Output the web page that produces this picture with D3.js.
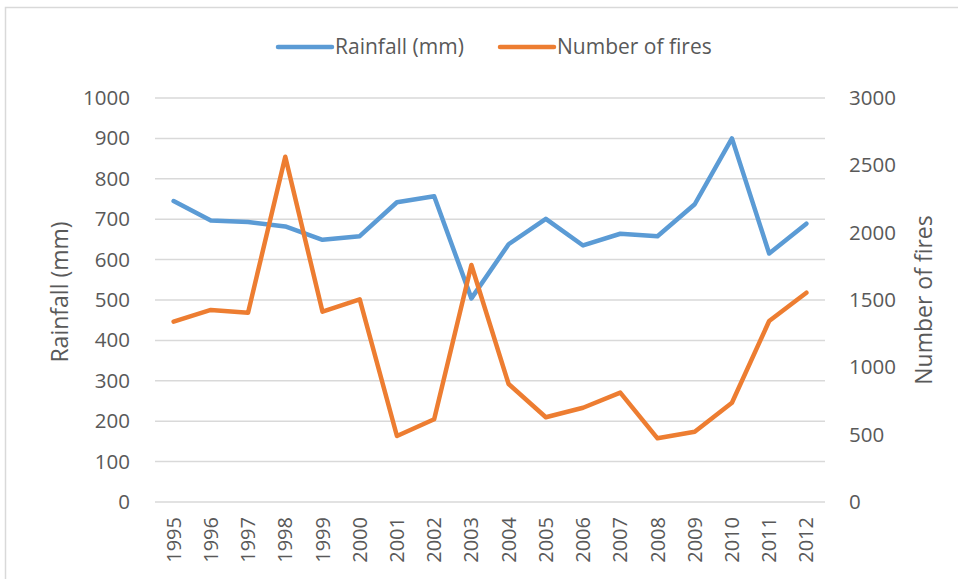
<!DOCTYPE html>
<html>
<head>
<meta charset="utf-8">
<script src="https://cdn.jsdelivr.net/npm/d3@7"></script>
<style>
  body { margin: 0; background: #fff; }
  text { font-family: "Open Sans", "Noto Sans", sans-serif; fill: #595959; }
</style>
</head>
<body>
<div id="chart"></div>
<script>
// Data
const years = ["1995", "1996", "1997", "1998", "1999", "2000", "2001", "2002", "2003",
               "2004", "2005", "2006", "2007", "2008", "2009", "2010", "2011", "2012"];
const rainfall = [745, 697, 693, 682, 649, 658, 742, 757, 504, 638, 701, 635, 664, 658, 737, 900, 615, 689];
const fires = [1339, 1426, 1406, 2564, 1413, 1505, 490, 614, 1760, 876, 629, 700, 812, 473, 522, 737, 1344, 1554];
const leftTicks = [0, 100, 200, 300, 400, 500, 600, 700, 800, 900, 1000];
const rightTicks = [0, 500, 1000, 1500, 2000, 2500, 3000];
const seriesNames = ["Rainfall (mm)", "Number of fires"];

const W = 958, H = 579;
const margin = { top: 98, right: 133, bottom: 77, left: 155 };
const colors = ["#5b9bd5", "#ed7d31"];
const fmt = d3.format("d");

const svg = d3.select("#chart").append("svg")
    .attr("width", W)
    .attr("height", H);

// chart border
svg.append("rect")
    .attr("x", 5.5).attr("y", 7.5)
    .attr("width", W).attr("height", H)
    .attr("fill", "none")
    .attr("stroke", "#d9d9d9")
    .attr("stroke-width", 1.5);

const x = d3.scaleBand().domain(years).range([margin.left, W - margin.right]);
const yL = d3.scaleLinear().domain([0, 1000]).range([H - margin.bottom, margin.top]);
const yR = d3.scaleLinear().domain([0, 3000]).range([H - margin.bottom, margin.top]);
const cx = d => x(d) + x.bandwidth() / 2;

// gridlines
svg.append("g")
    .selectAll("line")
    .data(leftTicks)
    .join("line")
    .attr("x1", margin.left).attr("x2", W - margin.right)
    .attr("y1", d => yL(d)).attr("y2", d => yL(d))
    .attr("stroke", "#d9d9d9")
    .attr("stroke-width", 1.5);

// left axis
const leftAxis = svg.append("g")
    .attr("transform", `translate(${margin.left},0)`)
    .call(d3.axisLeft(yL).tickValues(leftTicks).tickFormat(fmt).tickSize(0).tickPadding(25));
leftAxis.select(".domain").remove();
leftAxis.selectAll("text").style("font-size", "20.5px");

// right axis
const rightAxis = svg.append("g")
    .attr("transform", `translate(${W - margin.right},0)`)
    .call(d3.axisRight(yR).tickValues(rightTicks).tickFormat(fmt).tickSize(0).tickPadding(24));
rightAxis.select(".domain").remove();
rightAxis.selectAll("text").style("font-size", "20.5px");

// bottom axis
const bottomAxis = svg.append("g")
    .attr("transform", `translate(0,${H - margin.bottom})`)
    .call(d3.axisBottom(x).tickSize(0));
bottomAxis.select(".domain").remove();
bottomAxis.selectAll("text")
    .style("font-size", "20px")
    .attr("text-anchor", "end")
    .attr("transform", "rotate(-90)")
    .attr("x", -15)
    .attr("y", 0)
    .attr("dy", "0.35em");

// axis titles
svg.append("text")
    .attr("transform", `translate(68,${(margin.top + H - margin.bottom) / 2 - 8}) rotate(-90)`)
    .attr("text-anchor", "middle")
    .style("font-size", "23px")
    .text(seriesNames[0]);

svg.append("text")
    .attr("transform", `translate(932,${(margin.top + H - margin.bottom) / 2}) rotate(-90)`)
    .attr("text-anchor", "middle")
    .style("font-size", "23px")
    .text(seriesNames[1]);

// lines
const lineL = d3.line().x((d, i) => cx(years[i])).y(d => yL(d));
const lineR = d3.line().x((d, i) => cx(years[i])).y(d => yR(d));

svg.append("path")
    .datum(rainfall)
    .attr("d", lineL)
    .attr("fill", "none")
    .attr("stroke", colors[0])
    .attr("stroke-width", 4.5)
    .attr("stroke-linejoin", "round")
    .attr("stroke-linecap", "round");

svg.append("path")
    .datum(fires)
    .attr("d", lineR)
    .attr("fill", "none")
    .attr("stroke", colors[1])
    .attr("stroke-width", 4.5)
    .attr("stroke-linejoin", "round")
    .attr("stroke-linecap", "round");

// legend
const legendPos = [278, 500];
const legend = svg.append("g").attr("transform", "translate(0,47)");
seriesNames.forEach((name, i) => {
    legend.append("line")
        .attr("x1", legendPos[i]).attr("x2", legendPos[i] + 54)
        .attr("y1", 0).attr("y2", 0)
        .attr("stroke", colors[i])
        .attr("stroke-width", 4.5)
        .attr("stroke-linecap", "round");
    legend.append("text")
        .attr("x", legendPos[i] + 57)
        .attr("y", 0)
        .attr("dy", "0.35em")
        .style("font-size", "21px")
        .text(name);
});
</script>
</body>
</html>
